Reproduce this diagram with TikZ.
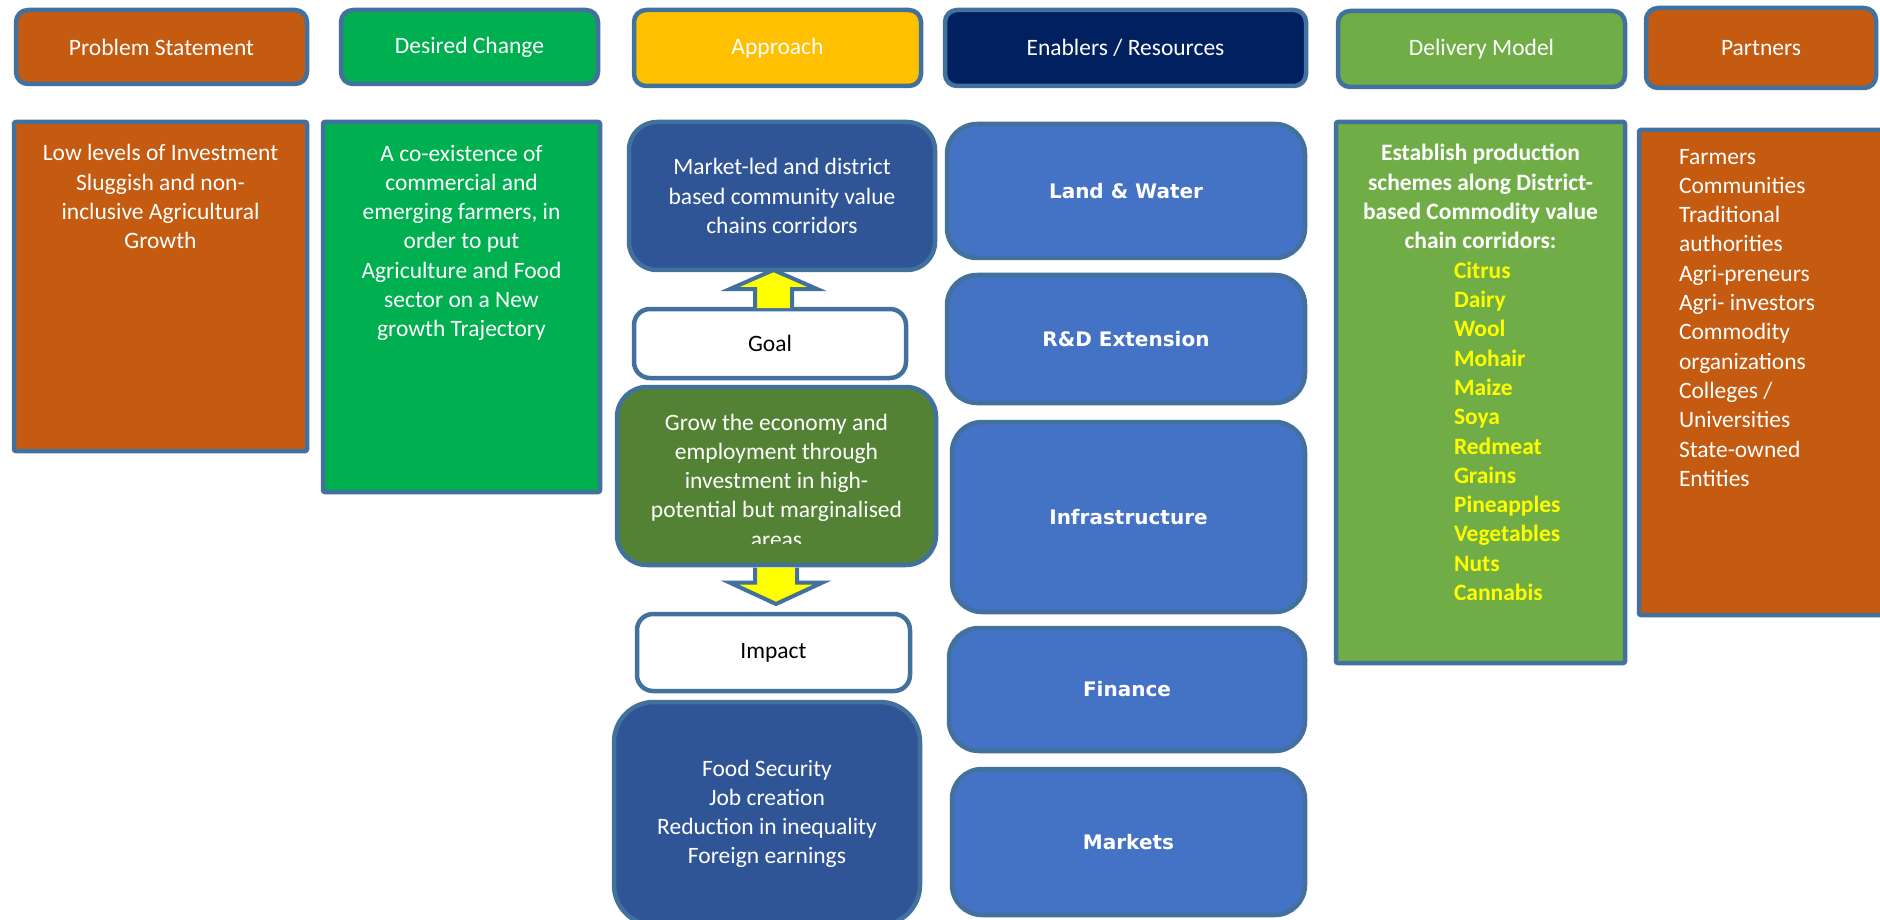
\documentclass[tikz,border=0pt]{standalone}
\usepackage{fontspec}
\setmainfont{Carlito}
\newfontfamily\enfont{DejaVu Sans}
\usetikzlibrary{calc}

\definecolor{edge}{HTML}{41719C}
\definecolor{rust}{HTML}{C55A11}
\definecolor{brightgreen}{HTML}{00B050}
\definecolor{amber}{HTML}{FFC000}
\definecolor{navy}{HTML}{002060}
\definecolor{leaf}{HTML}{70AD47}
\definecolor{deepblue}{HTML}{2F5597}
\definecolor{olive}{HTML}{548235}
\definecolor{midblue}{HTML}{4472C4}
\definecolor{lemon}{HTML}{FFFF00}

% multi-line text nodes: the base anchor sits on the baseline of the last line
\tikzset{
  panel/.style={draw=edge, line width=4.5pt, inner sep=0pt, outer sep=0pt},
  hdr/.style={panel, rounded corners=12pt, text=white,
    font=\fontsize{23.5}{28}\selectfont},
  block/.style={panel, rounded corners=2pt},
  tag/.style={panel, fill=white, rounded corners=16pt, text=black,
    font=\fontsize{23.5}{28}\selectfont},
  body/.style={inner sep=0pt, outer sep=0pt, anchor=base, align=center, text=white,
    font=\fontsize{23.5}{29.3}\selectfont},
  enabler/.style={panel, fill=midblue, rounded corners=30pt, text=white,
    font=\enfont\bfseries\fontsize{20}{24}\selectfont},
  flowarrow/.style={draw=edge, line width=4pt, fill=lemon, line join=miter}
}

\begin{document}
\begin{tikzpicture}[x=1pt, y=-1pt]
\clip (0,0) rectangle (1880,920);
\fill[white] (0,0) rectangle (1880,920);

% ---- column headers ----
\node[hdr, fill=rust,        minimum width=291pt, minimum height=74pt] (hps) at (161.5,47) {Problem Statement};
\node[hdr, fill=brightgreen, minimum width=257pt, minimum height=74pt] (hdc) at (469.5,47) {Desired Change};
\node[hdr, fill=amber,       minimum width=287pt, minimum height=76pt] (hap) at (777.5,48) {Approach};
\node[hdr, fill=navy,        minimum width=361pt, minimum height=76pt] (hen) at (1125.5,48) {Enablers / Resources};
\node[hdr, fill=leaf,        minimum width=287pt, minimum height=76pt] (hdm) at (1481.5,49) {Delivery Model};
\node[hdr, fill=rust,        minimum width=230pt, minimum height=80pt] (hpa) at (1761,48) {Partners};

% ---- problem statement and desired change ----
\node[block, fill=rust,        minimum width=293pt, minimum height=329pt] (prob) at (160.5,286.5) {};
\node[body] (probtext) at (160.5,248.9) {Low levels of Investment\\Sluggish and non-\\inclusive Agricultural\\Growth};

\node[block, fill=brightgreen, minimum width=277pt, minimum height=370pt] (des) at (461.5,307) {};
\node[body] (destext) at (461.5,336.8) {A co-existence of\\commercial and\\emerging farmers, in\\order to put\\Agriculture and Food\\sector on a New\\growth Trajectory};

% ---- approach column ----
\node[panel, fill=deepblue, rounded corners=28pt, minimum width=306pt, minimum height=148pt] (mkt) at (782,196) {};
\node[tag, minimum width=272pt, minimum height=69pt] (goal) at (770,343.5) {Goal};
\node[panel, fill=olive, rounded corners=30pt, minimum width=319pt, minimum height=178pt] (grow) at (776.5,476) {};
\node[tag, minimum width=273pt, minimum height=77pt] (imp) at (773.5,652.5) {Impact};
\node[panel, fill=deepblue, rounded corners=40pt, minimum width=306pt, minimum height=223pt] (impl) at (767,813.5) {};

% goal -> value chains
\coordinate (ub) at ($(goal.north)+(3.5,0)$);
\coordinate (ut) at (ub |- mkt.south);
\draw[flowarrow] ($(ub)+(-18.5,-1)$) -- ($(ut)+(-18.5,19)$) -- ($(ut)+(-43.5,19)$) -- (ut)
  -- ($(ut)+(43.5,19)$) -- ($(ut)+(18.5,19)$) -- ($(ub)+(18.5,-1)$);

% grow -> impact
\coordinate (db) at ($(grow.south)+(-0.5,2.5)$);
\coordinate (dt) at ($(imp.north)+(2.5,-10)$);
\draw[flowarrow] ($(db)+(-21,0)$) -- ($(db)+(-21,15)$) -- ($(db)+(-46.5,15)$) -- (dt)
  -- ($(db)+(46.5,15)$) -- ($(db)+(21,15)$) -- ($(db)+(21,0)$);

\node[body] (mkttext) at (782,233.6) {Market-led and district\\based community value\\chains corridors};
\begin{scope}
  \clip (617,387) rectangle (936,543);
  \node[body] (growtext) at (776.5,547.2) {Grow the economy and\\employment through\\investment in high-\\potential but marginalised\\areas};
\end{scope}
\node[body] (impltext) at (767,863.9) {Food Security\\Job creation\\Reduction in inequality\\Foreign earnings};

% ---- enablers / resources ----
\node[enabler, minimum width=358pt, minimum height=134pt] (land)  at (1126,191)    {Land \& Water};
\node[enabler, minimum width=358pt, minimum height=128pt] (rnd)   at (1126,339)    {R\&D Extension};
\node[enabler, minimum width=353pt, minimum height=190pt] (infra) at (1128.5,517)  {Infrastructure};
\node[enabler, minimum width=356pt, minimum height=123pt] (fin)   at (1127,689.5)  {Finance};
\node[enabler, minimum width=353pt, minimum height=146pt] (mkts)  at (1128.5,842)  {Markets};

% ---- delivery model ----
\node[block, fill=leaf, minimum width=289pt, minimum height=541pt] (deliv) at (1480.5,392.5) {};
\node[body, font=\bfseries\fontsize{23.5}{29.3}\selectfont] (delivtext) at (1480.5,248.9)
  {Establish production\\schemes along District-\\based Commodity value\\chain corridors:};
\node[body, anchor=base west, align=left, text=lemon, font=\bfseries\fontsize{23.5}{29.3}\selectfont] (crops) at (1454,600.5)
  {Citrus\\Dairy\\Wool\\Mohair\\Maize\\Soya\\Redmeat\\Grains\\Pineapples\\Vegetables\\Nuts\\Cannabis};

% ---- partners ----
\node[block, fill=rust, minimum width=256pt, minimum height=485pt] (part) at (1767,372.5) {};
\node[body, anchor=base west, align=left] (parttext) at (1679,486.3)
  {Farmers\\Communities\\Traditional\\authorities\\Agri-preneurs\\Agri- investors\\Commodity\\organizations\\Colleges /\\Universities\\State-owned\\Entities};
\end{tikzpicture}
\end{document}
